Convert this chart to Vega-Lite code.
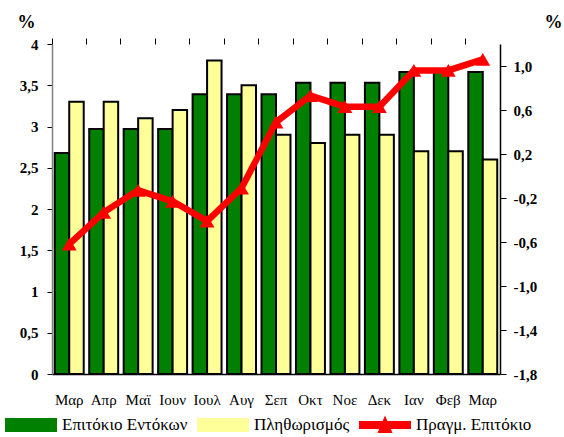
{
  "$schema": "https://vega.github.io/schema/vega-lite/v6.json",
  "width": 448,
  "height": 330,
  "autosize": "none",
  "padding": {"left": 52, "top": 44, "right": 64, "bottom": 63},
  "background": "white",
  "datasets": {
    "bars": [
      {"month": "Μαρ 04", "series": "Επιτόκιο Εντόκων", "value": 2.68},
      {"month": "Μαρ 04", "series": "Πληθωρισμός", "value": 3.3},
      {"month": "Απρ 04", "series": "Επιτόκιο Εντόκων", "value": 2.97},
      {"month": "Απρ 04", "series": "Πληθωρισμός", "value": 3.3},
      {"month": "Μαϊ 04", "series": "Επιτόκιο Εντόκων", "value": 2.97},
      {"month": "Μαϊ 04", "series": "Πληθωρισμός", "value": 3.1},
      {"month": "Ιουν 04", "series": "Επιτόκιο Εντόκων", "value": 2.97},
      {"month": "Ιουν 04", "series": "Πληθωρισμός", "value": 3.2},
      {"month": "Ιουλ 04", "series": "Επιτόκιο Εντόκων", "value": 3.39},
      {"month": "Ιουλ 04", "series": "Πληθωρισμός", "value": 3.8},
      {"month": "Αυγ 04", "series": "Επιτόκιο Εντόκων", "value": 3.39},
      {"month": "Αυγ 04", "series": "Πληθωρισμός", "value": 3.5},
      {"month": "Σεπ 04", "series": "Επιτόκιο Εντόκων", "value": 3.39},
      {"month": "Σεπ 04", "series": "Πληθωρισμός", "value": 2.9},
      {"month": "Οκτ 04", "series": "Επιτόκιο Εντόκων", "value": 3.53},
      {"month": "Οκτ 04", "series": "Πληθωρισμός", "value": 2.8},
      {"month": "Νοε 04", "series": "Επιτόκιο Εντόκων", "value": 3.53},
      {"month": "Νοε 04", "series": "Πληθωρισμός", "value": 2.9},
      {"month": "Δεκ 04", "series": "Επιτόκιο Εντόκων", "value": 3.53},
      {"month": "Δεκ 04", "series": "Πληθωρισμός", "value": 2.9},
      {"month": "Ιαν 05", "series": "Επιτόκιο Εντόκων", "value": 3.66},
      {"month": "Ιαν 05", "series": "Πληθωρισμός", "value": 2.7},
      {"month": "Φεβ 05", "series": "Επιτόκιο Εντόκων", "value": 3.66},
      {"month": "Φεβ 05", "series": "Πληθωρισμός", "value": 2.7},
      {"month": "Μαρ 05", "series": "Επιτόκιο Εντόκων", "value": 3.66},
      {"month": "Μαρ 05", "series": "Πληθωρισμός", "value": 2.6}
    ],
    "real": [
      {"month": "Μαρ 04", "series": "Πραγμ. Επιτόκιο", "value": -0.62},
      {"month": "Απρ 04", "series": "Πραγμ. Επιτόκιο", "value": -0.33},
      {"month": "Μαϊ 04", "series": "Πραγμ. Επιτόκιο", "value": -0.13},
      {"month": "Ιουν 04", "series": "Πραγμ. Επιτόκιο", "value": -0.23},
      {"month": "Ιουλ 04", "series": "Πραγμ. Επιτόκιο", "value": -0.41},
      {"month": "Αυγ 04", "series": "Πραγμ. Επιτόκιο", "value": -0.11},
      {"month": "Σεπ 04", "series": "Πραγμ. Επιτόκιο", "value": 0.49},
      {"month": "Οκτ 04", "series": "Πραγμ. Επιτόκιο", "value": 0.73},
      {"month": "Νοε 04", "series": "Πραγμ. Επιτόκιο", "value": 0.63},
      {"month": "Δεκ 04", "series": "Πραγμ. Επιτόκιο", "value": 0.63},
      {"month": "Ιαν 05", "series": "Πραγμ. Επιτόκιο", "value": 0.96},
      {"month": "Φεβ 05", "series": "Πραγμ. Επιτόκιο", "value": 0.96},
      {"month": "Μαρ 05", "series": "Πραγμ. Επιτόκιο", "value": 1.06}
    ]
  },
  "config": {
    "view": {"stroke": null},
    "font": "Liberation Serif, Times New Roman, serif",
    "axis": {"grid": false, "labelColor": "black", "titleColor": "black", "tickColor": "black", "domainColor": "black", "labelFont": "Liberation Serif, Times New Roman, serif", "titleFont": "Liberation Serif, Times New Roman, serif"},
    "legend": {"labelFont": "Liberation Serif, Times New Roman, serif"}
  },
  "resolve": {"scale": {"y": "independent"}, "axis": {"x": "independent"}},
  "layer": [
    {
      "data": {"name": "bars"},
      "mark": {"type": "bar", "stroke": "#000000", "strokeWidth": 2, "strokeOpacity": 1},
      "encoding": {
        "x": {
          "field": "month", "type": "nominal", "sort": null,
          "scale": {"paddingInner": 0.16, "paddingOuter": 0.08},
          "axis": {
            "title": null, "labelExpr": "split(datum.label, ' ')[0]", "labelAngle": 0,
            "ticks": false, "labelPadding": 18, "labelFontSize": 15,
            "domainWidth": 1.5, "domainColor": "black"
          }
        },
        "xOffset": {"field": "series", "type": "nominal", "sort": null},
        "y": {
          "field": "value", "type": "quantitative",
          "scale": {"domain": [0, 4], "nice": false},
          "axis": {
            "orient": "left", "values": [0, 0.5, 1, 1.5, 2, 2.5, 3, 3.5, 4],
            "labelExpr": "replace(format(datum.value, '~g'), '.', ',')",
            "labelFontSize": 15, "labelFontWeight": "bold", "labelPadding": 9, "tickSize": 5,
            "domainColor": "#808080", "domainWidth": 1.5,
            "title": "%", "titleAngle": 0, "titleX": -26, "titleY": -22, "titleAlign": "center",
            "titleBaseline": "middle", "titleFontSize": 18, "titleFontWeight": "bold"
          }
        },
        "color": {
          "field": "series", "type": "nominal",
          "scale": {
            "domain": ["Επιτόκιο Εντόκων", "Πληθωρισμός", "Πραγμ. Επιτόκιο"],
            "range": ["#008000", "#FFFF99", "#FF0000"]
          },
          "legend": {
            "title": null, "orient": "none", "direction": "horizontal", "columns": 3,
            "legendX": -47, "legendY": 355, "gridAlign": "none", "padding": 0,
            "columnPadding": 6, "labelOffset": 5, "labelFontSize": 17,
            "labelColor": "black", "labelLimit": 300, "symbolSize": 2500,
            "symbolType": "M-1,-0.24H1V0.24H-1Z",
            "symbolStrokeColor": "black", "symbolStrokeWidth": 2, "symbolOpacity": 1,
            "encode": {
              "symbols": {
                "update": {
                  "shape": [
                    {"test": "datum.value === 'Πραγμ. Επιτόκιο'", "value": "M-1,-0.12H1V0.12H-1Z M-0.24,0.28L0,-0.28L0.24,0.28Z"},
                    {"value": "M-1,-0.24H1V0.24H-1Z"}
                  ],
                  "stroke": [
                    {"test": "datum.value === 'Πραγμ. Επιτόκιο'", "value": "#FF0000"},
                    {"value": "#000000"}
                  ],
                  "strokeWidth": {"value": 2},
                  "strokeOpacity": {"value": 1}
                }
              }
            }
          }
        }
      }
    },
    {
      "data": {"name": "real"},
      "mark": {"type": "line", "strokeWidth": 6.5, "color": "#FF0000"},
      "encoding": {
        "x": {
          "field": "month", "type": "nominal", "sort": null,
          "axis": {"title": null, "labels": false, "domain": false, "ticks": true, "tickSize": 6, "bandPosition": -0.095, "tickColor": "black"}
        },
        "y": {
          "field": "value", "type": "quantitative",
          "scale": {"domain": [-1.8, 1.2], "nice": false, "zero": false},
          "axis": {
            "orient": "right", "values": [-1.8, -1.4, -1.0, -0.6, -0.2, 0.2, 0.6, 1.0],
            "labelExpr": "(datum.value < 0 ? '-' : '') + replace(format(abs(datum.value), '.1f'), '.', ',')",
            "labelFontSize": 15, "labelFontWeight": "bold", "labelPadding": 7, "tickSize": 6,
            "domainColor": "black", "domainWidth": 1.5,
            "title": "%", "titleAngle": 0, "titleX": 53, "titleY": -22, "titleAlign": "center",
            "titleBaseline": "middle", "titleFontSize": 18, "titleFontWeight": "bold"
          }
        },
        "color": {"field": "series", "type": "nominal"}
      }
    },
    {
      "data": {"name": "real"},
      "mark": {"type": "point", "shape": "triangle-up", "size": 220, "filled": true, "color": "#FF0000", "opacity": 1},
      "encoding": {
        "x": {"field": "month", "type": "nominal", "sort": null, "axis": null},
        "y": {
          "field": "value", "type": "quantitative",
          "scale": {"domain": [-1.8, 1.2], "nice": false, "zero": false},
          "axis": null
        }
      }
    }
  ]
}
